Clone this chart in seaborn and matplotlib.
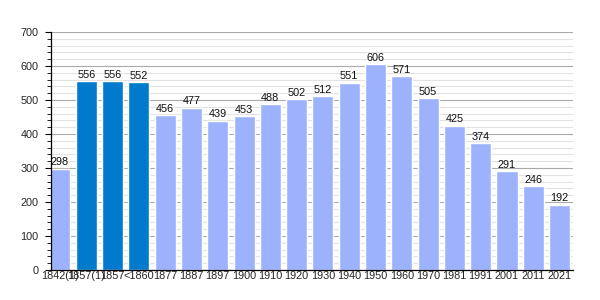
import matplotlib
matplotlib.use("Agg")
import matplotlib.pyplot as plt
import seaborn as sns
import pandas as pd
from matplotlib.ticker import MultipleLocator

years = ["1842(1)", "1857(1)", "1857", "<1860", "1877", "1887", "1897", "1900",
         "1910", "1920", "1930", "1940", "1950", "1960", "1970", "1981",
         "1991", "2001", "2011", "2021"]
population = [298, 556, 556, 552, 456, 477, 439, 453, 488, 502, 512, 551,
              606, 571, 505, 425, 374, 291, 246, 192]
highlight = [False, True, True, True] + [False] * 16

light = "#9db2fd"
dark = "#007acc"

df = pd.DataFrame({"year": years, "pop": population})
colors = {y: (dark if h else light) for y, h in zip(years, highlight)}

sns.set_theme(style="white")
plt.rcParams["font.family"] = ["Liberation Sans", "DejaVu Sans"]

fig = plt.figure(figsize=(6, 3), dpi=100)
ax = fig.add_axes([0.085, 0.1, 0.87, 0.793])

sns.barplot(data=df, x="year", y="pop", hue="year", palette=colors,
            dodge=False, width=0.8, saturation=1, legend=False, ax=ax)

for cont in ax.containers:
    ax.bar_label(cont, fontsize=7.8, padding=1, color="#111111")

ax.set_ylim(0, 700)
ax.set_xlim(-0.34, 19.51)
ax.yaxis.set_major_locator(MultipleLocator(100))
ax.yaxis.set_minor_locator(MultipleLocator(20))
ax.grid(True, which="major", axis="y", color="#aaaaaa", linewidth=0.8)
ax.grid(True, which="minor", axis="y", color="#e2e2e2", linewidth=0.8)
ax.set_axisbelow(True)

ax.set_xlabel("")
ax.set_ylabel("")
for s in ["top", "right"]:
    ax.spines[s].set_visible(False)
for s in ["left", "bottom"]:
    ax.spines[s].set_color("black")
    ax.spines[s].set_linewidth(0.9)

ax.tick_params(axis="y", which="major", left=True, length=4, width=0.8,
               color="black", labelsize=7.8, pad=5)
ax.tick_params(axis="y", which="minor", left=True, length=3, width=0.6,
               color="black")
ax.tick_params(axis="x", bottom=False, length=0, labelsize=7.8, pad=1)

fig.savefig("out.png", dpi=100)
